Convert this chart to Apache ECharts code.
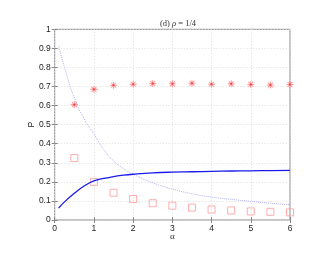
<!DOCTYPE html>
<html><head><meta charset="utf-8">
<script src="https://cdn.jsdelivr.net/npm/echarts@6/dist/echarts.min.js"></script>
<style>html,body{margin:0;padding:0;background:#fff}#c{width:334px;height:258px}</style>
</head><body><div id="c"></div>
<script>
const alphaPts = [0.5,1,1.5,2,2.5,3,3.5,4,4.5,5,5.5,6];
const starVals = [0.605,0.685,0.707,0.712,0.716,0.714,0.717,0.712,0.714,0.711,0.708,0.711];
const squareVals = [0.325,0.200,0.143,0.110,0.088,0.075,0.065,0.055,0.050,0.045,0.043,0.040];
const curveX = [0.1,0.25,0.5,0.75,1,1.25,1.5,1.75,2,2.5,3,3.5,4,4.5,5,5.5,6];
const solidVals = [0.062,0.095,0.140,0.178,0.205,0.218,0.228,0.235,0.240,0.247,0.251,0.253,0.255,0.257,0.258,0.259,0.260];
const dottedVals = [0.915,0.80,0.64,0.53,0.45,0.37,0.31,0.27,0.24,0.195,0.162,0.138,0.12,0.108,0.098,0.088,0.08];
const xTicks = [0,1,2,3,4,5,6];
const yTicks = [0,0.1,0.2,0.3,0.4,0.5,0.6,0.7,0.8,0.9,1];

const zip = (xs, ys) => xs.map((x,i)=>[x, ys[i]]);
const star = 'path://M-0.15,-1L0.15,-1L0.15,1L-0.15,1Z M-1,-0.15L1,-0.15L1,0.15L-1,0.15Z M-0.8,-0.6L-0.6,-0.8L0.8,0.6L0.6,0.8Z M0.6,-0.8L0.8,-0.6L-0.6,0.8L-0.8,0.6Z';
const chart = echarts.init(document.getElementById('c'));
const lab = {color:'#222', fontSize:8.5, fontFamily:'Liberation Sans, Arial, sans-serif'};
chart.setOption({
  animation:false,
  title:{text:'(d) {i|ρ} = 1/4', left:173, top:14, textAlign:'center',
    textStyle:{fontSize:8.5, fontWeight:'normal', color:'#333', fontFamily:'Liberation Serif, serif',
      rich:{i:{fontStyle:'italic', fontSize:8.5, fontFamily:'Liberation Serif, serif', color:'#333'}}}},
  grid:{left:54.7, right:44, top:29.3, bottom:38, show:true, borderColor:'#888', borderWidth:1},
  xAxis:[{type:'value', min:0, max:6, interval:1,
    axisLine:{show:false}, axisTick:{inside:true, length:3, lineStyle:{color:'#888'}},
    axisLabel:Object.assign({margin:4}, lab),
    splitLine:{show:true, lineStyle:{color:'#ddd', type:[1,2], width:1}},
    name:'α', nameLocation:'middle', nameGap:12, nameMoveOverlap:false,
    nameTextStyle:{fontSize:9, fontFamily:'Liberation Serif, serif', color:'#333'}},
   {type:'value', position:'top', min:0, max:6, interval:1, axisLine:{show:false},
    axisTick:{inside:true, length:3, lineStyle:{color:'#888'}}, axisLabel:{show:false}, splitLine:{show:false}}],
  yAxis:[{type:'value', min:0, max:1, interval:0.1,
    axisLine:{show:false}, axisTick:{inside:true, length:3, lineStyle:{color:'#888'}},
    axisLabel:Object.assign({margin:4, formatter:v=>String(Math.round(v*10)/10)}, lab),
    splitLine:{show:true, lineStyle:{color:'#ddd', type:[1,2], width:1}},
    name:'P', nameLocation:'middle', nameGap:19, nameMoveOverlap:false,
    nameTextStyle:{fontSize:8.5, color:'#222', fontFamily:'Liberation Sans, sans-serif'}},
   {type:'value', position:'right', min:0, max:1, interval:0.1, axisLine:{show:false},
    axisTick:{inside:true, length:3, lineStyle:{color:'#888'}}, axisLabel:{show:false}, splitLine:{show:false}}],
  series:[
    {type:'line', data:zip(curveX, dottedVals), smooth:true, showSymbol:false,
      lineStyle:{color:'#b0b0f6', width:1, type:[1,1]}},
    {type:'line', data:zip(curveX, solidVals), smooth:true, showSymbol:false,
      lineStyle:{color:'#1a1aee', width:1.3}},
    {type:'scatter', data:zip(alphaPts, starVals), symbol:star, symbolSize:7,
      itemStyle:{color:'#ff7f7f'}},
    {type:'scatter', data:zip(alphaPts, starVals), symbol:'circle', symbolSize:2,
      itemStyle:{color:'#e03030'}},
    {type:'scatter', data:zip(alphaPts, squareVals), symbol:'rect', symbolSize:7,
      itemStyle:{color:'rgba(0,0,0,0)', borderColor:'#ff9a9a', borderWidth:1}}
  ]
});
</script></body></html>
